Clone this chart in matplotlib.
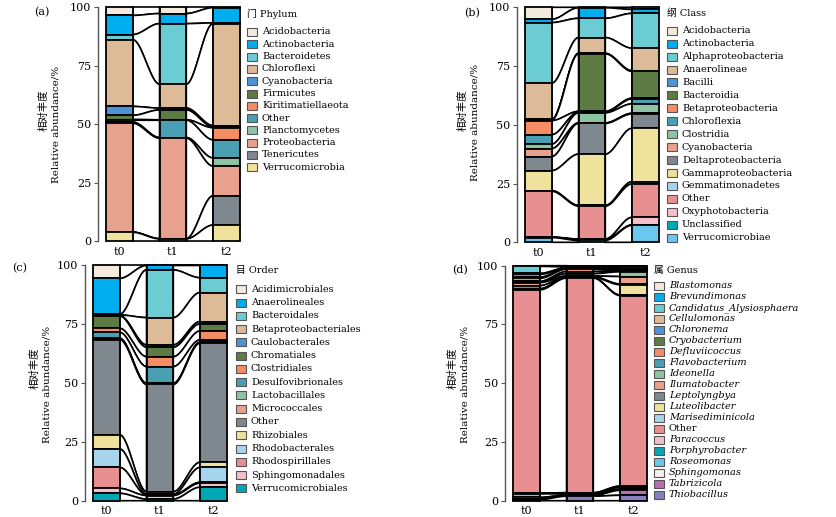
import numpy as np
import matplotlib.pyplot as plt
from matplotlib.patches import Rectangle

plt.rcParams['font.family'] = ['DejaVu Serif', 'Noto Sans CJK SC']

W, H = 837, 517
times = ['t0', 't1', 't2']

palette = ['#F3E9DC', '#00AEEF', '#6CCCD4', '#DDBB98', '#4C94D6', '#5D7B43',
           '#F58D64', '#4A9FB2', '#8FC3A6', '#E8A18C', '#7F878F', '#EEE29C',
           '#A8D5EE', '#E89091', '#F2BFCB', '#00A8B5', '#6CC7EF', '#F3EFEA',
           '#B86DB5', '#8A7DC0']

# (a) phylum
phylum = ['Acidobacteria', 'Actinobacteria', 'Bacteroidetes', 'Chloroflexi',
          'Cyanobacteria', 'Firmicutes', 'Kiritimatiellaeota', 'Other',
          'Planctomycetes', 'Proteobacteria', 'Tenericutes', 'Verrucomicrobia']
phylum_t0 = [3.6, 8.2, 2.2, 28.5, 3.8, 1.8, 0.3, 0.8, 0.5, 46.5, 0.1, 3.7]
phylum_t1 = [2.8, 4.3, 25.9, 10.2, 0.8, 4.2, 0.2, 7.4, 0.3, 42.9, 0.1, 0.9]
phylum_t2 = [0.3, 6.5, 0.3, 43.6, 0.5, 0.4, 5.2, 7.7, 3.5, 12.7, 12.5, 6.8]

# (b) class
klass = ['Acidobacteria', 'Actinobacteria', 'Alphaproteobacteria', 'Anaerolineae',
         'Bacilli', 'Bacteroidia', 'Betaproteobacteria', 'Chloroflexia', 'Clostridia',
         'Cyanobacteria', 'Deltaproteobacteria', 'Gammaproteobacteria',
         'Gemmatimonadetes', 'Other', 'Oxyphotobacteria', 'Unclassified',
         'Verrucomicrobiae']
class_t0 = [5.1, 1.4, 25.8, 15.4, 0.3, 0.2, 6.0, 4.0, 1.9, 3.4, 6.0, 8.5, 0.3, 19.5, 0.1, 0.1, 2.0]
class_t1 = [0.2, 4.5, 8.2, 6.7, 0.2, 24.5, 0.3, 0.3, 4.3, 0.2, 13.1, 21.8, 0.3, 14.0, 0.2, 0.4, 0.8]
class_t2 = [0.9, 1.7, 14.8, 9.6, 0.3, 11.4, 0.3, 2.1, 4.0, 0.3, 6.1, 22.7, 1.0, 14.2, 3.2, 0.2, 7.2]

# (c) order
order = ['Acidimicrobiales', 'Anaerolineales', 'Bacteroidales', 'Betaproteobacteriales',
         'Caulobacterales', 'Chromatiales', 'Clostridiales', 'Desulfovibrionales',
         'Lactobacillales', 'Micrococcales', 'Other', 'Rhizobiales', 'Rhodobacterales',
         'Rhodospirillales', 'Sphingomonadales', 'Verrucomicrobiales']
order_t0 = [5.7, 15.2, 0.3, 0.3, 0.2, 5.2, 1.7, 2.5, 0.3, 0.3, 40.4, 6.0, 7.8, 8.9, 2.1, 3.1]
order_t1 = [0.2, 1.9, 20.2, 11.6, 1.0, 4.0, 4.2, 7.1, 0.3, 0.2, 45.5, 1.1, 0.2, 0.3, 1.5, 0.7]
order_t2 = [0.2, 5.2, 6.3, 12.3, 1.0, 3.0, 3.8, 1.0, 0.2, 0.2, 50.5, 2.2, 6.3, 0.4, 1.7, 5.7]

# (d) genus
genus = ['Blastomonas', 'Brevundimonas', 'Candidatus_Alysiosphaera', 'Cellulomonas',
         'Chloronema', 'Cryobacterium', 'Defluviicoccus', 'Flavobacterium', 'Ideonella',
         'Ilumatobacter', 'Leptolyngbya', 'Luteolibacter', 'Marisediminicola', 'Other',
         'Paracoccus', 'Porphyrobacter', 'Roseomonas', 'Sphingomonas', 'Tabrizicola',
         'Thiobacillus']
genus_t0 = [0.1, 0.2, 3.0, 0.4, 1.2, 0.5, 1.3, 0.2, 0.3, 1.3, 1.3, 0.2, 0.3, 86.5, 0.2, 0.1, 1.5, 0.6, 0.3, 0.5]
genus_t1 = [0.2, 0.3, 0.4, 0.2, 0.2, 0.2, 1.0, 0.9, 1.0, 0.3, 0.3, 0.2, 0.1, 91.3, 0.3, 0.2, 0.5, 0.3, 0.2, 1.9]
genus_t2 = [0.2, 0.5, 0.6, 0.3, 0.2, 0.2, 0.3, 0.3, 2.0, 3.2, 0.3, 4.4, 0.2, 81.1, 0.3, 0.3, 0.8, 0.4, 2.1, 2.3]


def alluvial(ax, data):
    x = np.arange(1, len(data) + 1)
    w = 0.5
    n = len(data[0])
    tops = [100 - np.concatenate([[0], np.cumsum(v)[:-1]]) for v in data]
    bots = [tops[j] - np.array(data[j]) for j in range(len(data))]
    t = np.linspace(0, 1, 80)
    s = 3 * t**2 - 2 * t**3
    for j in range(len(data) - 1):
        xs = x[j] + w / 2 + (x[j + 1] - x[j] - w) * t
        for i in range(n):
            up = tops[j][i] + (tops[j + 1][i] - tops[j][i]) * s
            lo = bots[j][i] + (bots[j + 1][i] - bots[j][i]) * s
            ax.fill(np.r_[xs, xs[::-1]], np.r_[up, lo[::-1]], facecolor='white',
                    edgecolor='black', lw=1.2, zorder=2, clip_on=False)
    for j in range(len(data)):
        ax.bar([x[j]] * n, data[j], bottom=bots[j], width=w, color=palette[:n],
               edgecolor='black', lw=1.3, zorder=3, clip_on=False)
    ax.set_xlim(0.6, 3.3)
    ax.set_ylim(0, 100)
    ax.set_xticks(x)
    ax.set_xticklabels(times)
    ax.set_yticks([0, 25, 50, 75, 100])
    for sp in ['top', 'right', 'bottom']:
        ax.spines[sp].set_visible(False)
    ax.spines['left'].set_color('#555555')
    ax.spines['left'].set_linewidth(1.0)
    ax.tick_params(axis='y', length=3, width=0.8, color='#555555', labelsize=8, pad=2)
    ax.tick_params(axis='x', length=0, labelsize=8, pad=4)


def legend(x0, y_title, y0, dy, title, names, italic=False):
    fig.text(x0 / W, 1 - y_title / H, title, fontsize=7, va='center', ha='left')
    for k, name in enumerate(names):
        yc = y0 + k * dy
        fig.add_artist(Rectangle((x0 / W, 1 - (yc + 4) / H), 10 / W, 8 / H,
                                 transform=fig.transFigure, facecolor=palette[k],
                                 edgecolor='#555555', lw=0.8))
        style = 'italic' if italic and name != 'Other' else 'normal'
        fig.text((x0 + 15) / W, 1 - yc / H, name, fontsize=7, va='center',
                 ha='left', style=style)


def ylab(xc, yc, xe, ye):
    fig.text(xc / W, 1 - yc / H, '相对丰度', rotation=90, fontsize=7.5,
             ha='center', va='center')
    fig.text(xe / W, 1 - ye / H, 'Relative abundance/%', rotation=90, fontsize=7.5,
             ha='center', va='center')


fig = plt.figure(figsize=(W / 100, H / 100), dpi=100)

axa = fig.add_axes([98 / W, 1 - 241 / H, 144.5 / W, 234 / H])
alluvial(axa, [phylum_t0, phylum_t1, phylum_t2])
axb = fig.add_axes([517 / W, 1 - 242.3 / H, 144.5 / W, 235 / H])
alluvial(axb, [class_t0, class_t1, class_t2])
axc = fig.add_axes([85 / W, 1 - 500.7 / H, 144.5 / W, 235.7 / H])
alluvial(axc, [order_t0, order_t1, order_t2])
axd = fig.add_axes([505 / W, 1 - 500.7 / H, 144.5 / W, 235 / H])
alluvial(axd, [genus_t0, genus_t1, genus_t2])

legend(247, 14, 32, 12.3, '门 Phylum', phylum)
legend(667, 13.3, 30.7, 12.94, '纲 Class', klass)
legend(236, 270, 289.3, 13.27, '目 Order', order)
legend(654, 270.7, 285.7, 11.0, '属 Genus', genus, italic=True)

ylab(44, 110, 56, 124)
ylab(463, 110, 475, 122)
ylab(35, 368, 47, 384)
ylab(453, 368, 465, 384)

for lab, px, py in [('(a)', 42, 12), ('(b)', 472, 13), ('(c)', 20, 268), ('(d)', 460, 270)]:
    fig.text(px / W, 1 - py / H, lab, fontsize=8, ha='center', va='center')

fig.savefig('out.png', dpi=100)
